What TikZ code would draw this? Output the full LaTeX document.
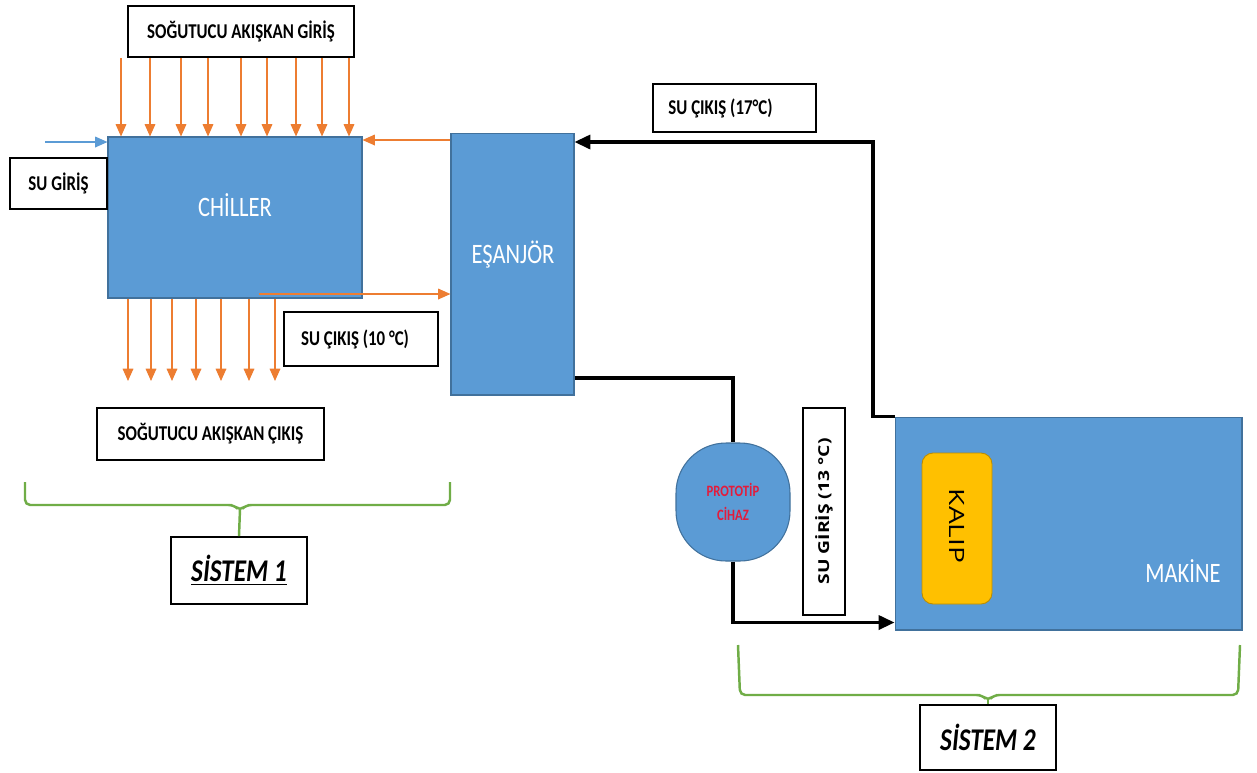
\documentclass[tikz,border=0pt]{standalone}
\usepackage{fontspec}
\setmainfont{Carlito}[FakeStretch=0.8]
\newfontfamily\widefont{Open Sans}
\usepackage{tikz}
\usetikzlibrary{arrows.meta,positioning}
\definecolor{UnitBlue}   {HTML}{5B9BD5}
\definecolor{UnitEdge}   {HTML}{41719C}
\definecolor{CoolOrange} {HTML}{ED7D31}
\definecolor{BraceGreen} {HTML}{70AD47}
\definecolor{MouldYellow}{HTML}{FFC000}
\definecolor{MouldEdge}  {HTML}{BC8C00}
\definecolor{ProtoRed}   {HTML}{E31B3B}

\begin{document}
\begin{tikzpicture}[x=0.02cm,y=-0.02cm,
    unit/.style={fill=UnitBlue,draw=UnitEdge,line width=0.6pt},
    unittext/.style={text=white,font=\fontsize{16}{18}\selectfont,inner sep=0pt},
    labelbox/.style={draw=black,line width=1pt,fill=white,font=\bfseries\fontsize{12}{14}\selectfont},
    sysbox/.style={draw=black,line width=1pt,fill=white,font=\bfseries\itshape\fontsize{18}{20}\selectfont},
    coolant/.style={draw=CoolOrange,line width=0.9pt,-{Triangle[length=7pt,width=6pt]}},
    water/.style={draw=black,line width=1.8pt},
    brace/.style={draw=BraceGreen,line width=1.4pt,rounded corners=3pt}]
  \fill[white] (0,0) rectangle (1257,772);

  % system 1
  \node[unit,minimum width=5.08cm,minimum height=3.22cm] (chiller) at (235,217.5) {};
  \node[unittext] (chillerlbl) at (235,205) {CHİLLER};
  \node[unit,minimum width=2.46cm,minimum height=5.24cm] (esanjor) at (512.5,264) {};
  \node[unittext] (esanjorlbl) at (513,255) {EŞANJÖR};

  \node[labelbox,minimum width=4.52cm,minimum height=1.02cm] (sogin) at (241,31.5) {SOĞUTUCU AKIŞKAN GİRİŞ};
  \node[labelbox,minimum width=1.94cm,minimum height=1.02cm] (sugiris) at (58.5,183.5) {SU GİRİŞ};
  \node[labelbox,minimum width=3.08cm,minimum height=1.08cm] (sucikis10) at (361,339) {SU ÇIKIŞ (10 °C)\hspace*{0.24cm}};
  \node[labelbox,minimum width=4.54cm,minimum height=1.04cm] (sogout) at (210.5,434) {SOĞUTUCU AKIŞKAN ÇIKIŞ};
  \node[sysbox,minimum width=2.72cm,minimum height=1.34cm] (sistem1) at (239,570.5) {\underline{SİSTEM 1}};

  \foreach \x in {121,150,181,208,241,267,296,322,349}
    \draw[coolant] (\x,0 |- sogin.south) -- (\x,0 |- chiller.north);
  \coordinate (coolend) at (0,381);
  \foreach \x in {128,151,172,196,221,249,275}
    \draw[coolant] (\x,0 |- chiller.south) -- (\x,0 |- coolend);

  \coordinate (wtrin) at (45,142);
  \draw[draw=UnitBlue,line width=0.9pt,-{Triangle[length=7pt,width=6pt]}] (wtrin) -- (chiller.west |- wtrin);
  \coordinate (back) at (esanjor.west |- 0,140);
  \draw[coolant] (back) -- (chiller.east |- back);
  \coordinate (cwout) at (259,294);
  \draw[coolant] (cwout) -- (esanjor.west |- cwout);

  \draw[brace] (25,482) -- (25,505) -- (234,505) -- (240,511) -- (246,505) -- (450,505) -- (450,482);
  \draw[brace] (240,509) -- (sistem1.north);

  % system 2
  \node[unit,minimum width=6.94cm,minimum height=4.26cm] (makine) at (1068.5,523.5) {};
  \node[unittext] (makinelbl) at (1183,571) {MAKİNE};
  \node[fill=MouldYellow,draw=MouldEdge,line width=0.5pt,rounded corners=0.22cm,
        minimum width=1.4cm,minimum height=3.02cm] (kalip) at (957,528.5) {};
  \node[rotate=-90,inner sep=0pt] (kaliplbl) at (957,526)
    {\widefont\fontsize{16}{18}\selectfont\scalebox{1}[0.75]{KALIP}};
  \node[unit,rounded corners=1cm,minimum width=2.28cm,minimum height=2.36cm,
        text=ProtoRed,font=\bfseries\fontsize{9}{10}\selectfont,align=center] (proto) at (733,502) {PROTOTİP\\[4pt]CİHAZ};

  \node[labelbox,minimum width=3.26cm,minimum height=0.96cm] (sucikis17) at (734.5,108) {SU ÇIKIŞ (17°C)\hspace*{0.56cm}};
  \node[labelbox,rotate=90,minimum width=4.14cm,minimum height=0.84cm] (sugiris13) at (824,511.5)
    {\widefont\bfseries\fontsize{11}{13}\selectfont\scalebox{1}[0.78]{SU GİRİŞ (13 °C)}};
  \node[sysbox,minimum width=2.72cm,minimum height=1.3cm] (sistem2) at (988,737.5) {SİSTEM 2};

  \coordinate (retturn) at (873,142);
  \draw[water,-{Triangle[length=9pt,width=8pt]}] (makine.north west) -- (retturn |- makine.north west)
    -- (retturn) -- (retturn -| esanjor.east);
  \coordinate (esout) at (esanjor.east |- 0,378);
  \draw[water] (esout) -| (proto.north);
  \draw[water,-{Triangle[length=9pt,width=8pt]}] (proto.south) |- ([yshift=0.16cm]makine.south west);

  \draw[brace] (738,645) -- (740,695) -- (982,695) -- (988,701) -- (994,695) -- (1238,695) -- (1240,645);
  \draw[brace] (988,699) -- (sistem2.north);
  \useasboundingbox (0,0) rectangle (1257,772);
\end{tikzpicture}
\end{document}
